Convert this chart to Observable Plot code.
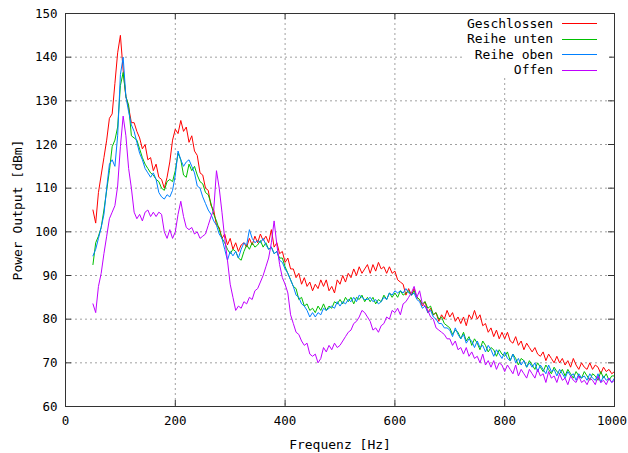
<!DOCTYPE html>
<html>
<head>
<meta charset="utf-8">
<script src="https://cdn.jsdelivr.net/npm/d3@7"></script>
<script src="https://cdn.jsdelivr.net/npm/@observablehq/plot@0.6"></script>
<style>
  html, body { margin: 0; padding: 0; background: #fff; }
  #wrap { position: relative; width: 628px; height: 453px; font-family: "DejaVu Sans Mono", monospace; font-size: 13px; color: #000; }
  .lg-text { position: absolute; right: 75px; height: 15px; line-height: 15px; text-align: right; white-space: pre; }
  .lg-line { position: absolute; left: 562px; width: 35px; height: 0; }
</style>
</head>
<body>
<div id="wrap"></div>
<script>
// Frequencies sampled every 5 Hz from 50 to 1000 Hz
const freq = d3.range(50, 1001, 5);

const geschlossen = [
  105, 102, 109, 113, 117, 121, 126, 127, 134, 141,
  145, 137, 131, 128.5, 125, 125, 123, 121.5, 119, 120,
  116.5, 117, 114, 115.5, 112.5, 112, 110, 112.5, 116, 121,
  123.5, 122.5, 125.5, 123, 124, 120.5, 122, 118.5, 117.5, 113.5,
  113, 110, 109.5, 106, 105, 101.5, 101, 98.5, 99.5, 97,
  98.5, 96, 97.5, 95.5, 97, 97.5, 96.5, 98.5, 97, 99,
  97.5, 99.5, 98, 99, 97.5, 100.5, 96.5, 97.5, 95, 95.5,
  93, 94, 91.5, 91.5, 89.5, 90.5, 88, 89.5, 87.5, 88.5,
  86.5, 88, 87, 89, 87.5, 89, 86.5, 87.5, 86, 89,
  88, 90, 88.5, 90.5, 89.5, 91.5, 90, 92, 90.5, 91.5,
  92.5, 90.5, 92.5, 91, 93, 91.5, 92, 90.5, 92, 90.5,
  91, 89, 88.5, 88, 85.5, 87, 85.5, 87, 85, 84.5,
  83, 84, 81.5, 82.5, 81, 81.5, 79.5, 81, 80, 82,
  80.5, 81.5, 79.5, 80.5, 79, 80.5, 78.5, 81, 80, 82,
  80, 81, 78.5, 79, 77, 78, 76, 77.5, 75.5, 77,
  75.5, 77, 75, 74.5, 76, 74, 75, 73, 74.5, 73.5,
  72.5, 73.5, 72, 71.5, 72.5, 70.5, 72, 71, 70, 71.5,
  70, 71, 69.5, 70.5, 69, 71, 69.5, 68.5, 70, 69,
  68.5, 70, 68.5, 69.5, 69, 67.5, 69, 68, 68.5, 67.5,
  68
];

const reiheUnten = [
  92.5, 97.5, 99, 101, 105, 109.5, 114, 119.5, 121, 124,
  133.5, 136.5, 131, 129, 122, 121.5, 121, 119, 117, 115.5,
  114.5, 113.5, 113, 112, 111.5, 110, 109.5, 111.5, 112, 111.5,
  114, 118, 116.5, 113, 112.5, 115.5, 114, 115, 113, 111.5,
  111, 109, 108.5, 106.5, 104, 102.5, 100.5, 98.5, 97.5, 96,
  95, 96, 95.5, 94, 93.5, 95.5, 97, 96, 97.5, 96.5,
  97, 98, 96.5, 97.5, 96, 96.5, 95, 95.5, 94, 94,
  92, 90.5, 89, 87.5, 87, 84.5, 85, 83, 83.5, 82,
  82.5, 81.5, 83, 82, 83.5, 82, 83, 82.5, 84, 83.5,
  84.5, 83.5, 85, 84, 85, 83.5, 85, 84.5, 85.5, 84,
  85, 84, 85, 83.5, 84.5, 84, 85.5, 84.5, 86, 85,
  86, 85, 86.5, 85.5, 86, 86.5, 85.5, 86.5, 85, 84.5,
  83.5, 84, 82.5, 83, 81, 81.5, 80, 80.5, 79, 78.5,
  78, 76.5, 77.5, 77, 75.5, 77, 75, 76, 74, 75.5,
  74.5, 73, 75, 74, 72.5, 73.5, 73, 71.5, 73, 72,
  71.5, 72.5, 70.5, 72, 71, 69.5, 71, 70.5, 69, 70.5,
  69.5, 68.5, 70, 69, 68, 69.5, 68.5, 67.5, 69, 68,
  67.5, 68.5, 67, 68.5, 67.5, 66.5, 68, 67, 66.5, 68,
  67, 66, 67.5, 67, 66, 68, 66.5, 67.5, 66, 67,
  67
];

const reiheOben = [
  94.5, 96, 98.5, 101, 104, 110, 115.5, 116.5, 115, 122,
  136, 140, 131, 127.5, 124.5, 123, 120.5, 118, 116.5, 114.5,
  113.5, 112.5, 113.5, 112, 109, 108, 107.5, 108.5, 108, 109.5,
  113, 118.5, 116.5, 115, 116, 116.5, 115, 113.5, 110.5, 110,
  108, 106.5, 105, 104, 102.5, 101.5, 99.5, 98.5, 96, 93.5,
  95.5, 94.5, 95.5, 94, 96, 97.5, 97, 100.5, 98.5, 97.5,
  98, 97.5, 98.5, 97, 96, 96.5, 95, 95.5, 93.5, 93,
  91.5, 90.5, 89, 87.5, 85.5, 85, 83.5, 83, 82, 80.5,
  81.5, 80.5, 81.5, 81, 82.5, 82, 82.5, 83, 82.5, 84,
  83, 84, 83.5, 84.5, 84, 85, 84, 85.5, 85, 84.5,
  84.5, 85, 84, 84.5, 83.5, 84, 85, 84.5, 86, 85.5,
  86.5, 86, 86.5, 86, 87, 86, 85.5, 86, 84.5, 84,
  82.5, 83, 81.5, 82, 80.5, 80, 79, 79, 78, 78,
  77.5, 76, 78, 76.5, 75.5, 76.5, 74.5, 75.5, 75, 73.5,
  75, 73.5, 74, 72.5, 74, 73, 71.5, 73, 72, 71,
  72.5, 71, 70.5, 72, 70, 71, 69.5, 70.5, 69, 70,
  69, 70, 68, 69.5, 68.5, 67.5, 69.5, 68, 68.5, 67,
  68.5, 67.5, 66.5, 68, 67, 67.5, 66, 67.5, 66.5, 67,
  66, 67.5, 66.5, 66, 67.5, 65.5, 67, 66, 66.5, 65.5,
  66.5
];

const offen = [
  83.5, 81.5, 87.5, 90.5, 95, 99, 103, 104.5, 106, 110.5,
  119.5, 126.5, 122, 114.5, 110, 104.5, 103, 104, 102.5, 104.5,
  105, 103.5, 104.5, 103.5, 104.5, 104, 100, 98.5, 100.5, 98.5,
  100, 104, 107, 103.5, 101, 100.5, 101, 99.5, 100, 98.5,
  99, 99.5, 101.5, 103.5, 105, 114, 110, 104.5, 98.5, 93.5,
  88, 85, 82, 83, 82.5, 84, 83.5, 85, 84.5, 86.5,
  87, 88.5, 90, 92, 94, 97.5, 102.5, 97, 92.5, 89.5,
  88, 86, 81, 79, 77, 76.5, 75, 74, 74.5, 72,
  71.5, 72, 70, 71, 73.5, 72.5, 74, 73, 74.5, 73.5,
  74, 75, 76, 77, 77.5, 79, 79.5, 80.5, 82, 81.5,
  80.5, 79.5, 77.5, 78, 77, 78.5, 79, 80.5, 80, 82,
  81.5, 82.5, 81, 83.5, 84, 85, 86, 87.5, 85, 86.5,
  83.5, 83, 82, 80.5, 80, 78, 77.5, 77, 76.5, 75.5,
  75.5, 74, 75, 73, 73.5, 72, 73.5, 71.5, 72.5, 71,
  71.5, 70, 72, 69.5, 70.5, 69, 70.5, 68.5, 70, 69.5,
  68, 69.5, 68.5, 67.5, 69.5, 67, 68.5, 67.5, 66.5, 68.5,
  67.5, 66.5, 68.5, 67, 67.5, 65.5, 68, 66.5, 67, 65.5,
  67.5, 66, 66.5, 65, 67, 66, 65.5, 67, 65.5, 66,
  65, 66.5, 66, 65, 67, 65.5, 66, 65, 66.5, 65.5,
  66
];

const seriesNames = ["Geschlossen", "Reihe unten", "Reihe oben", "Offen"];
const seriesValues = [geschlossen, reiheUnten, reiheOben, offen];
const seriesColors = ["#ff0000", "#00c000", "#0080ff", "#c000ff"];

const xTicks = [0, 200, 400, 600, 800, 1000];
const yTicks = [60, 70, 80, 90, 100, 110, 120, 130, 140, 150];

const W = 628, H = 453, mL = 65, mR = 14, mT = 13, mB = 47;
const innerW = W - mL - mR, innerH = H - mT - mB;
const tickLen = 6;

const rows = seriesNames.map((name, s) =>
  freq.map((f, i) => ({series: name, f, v: seriesValues[s][i]}))
);

const gridStyle = {stroke: "#a0a0a0", strokeOpacity: 1, strokeWidth: 1, strokeDasharray: "2,3"};

const chart = Plot.plot({
  width: W, height: H,
  marginLeft: mL, marginRight: mR, marginTop: mT, marginBottom: mB,
  style: {fontFamily: "DejaVu Sans Mono, monospace", fontSize: "13px", color: "#000", background: "transparent", overflow: "visible"},
  x: {domain: [0, 1000]},
  y: {domain: [60, 150]},
  marks: [
    Plot.gridX(xTicks, gridStyle),
    Plot.gridY(yTicks, gridStyle),
    ...rows.map((data, s) => Plot.line(data, {x: "f", y: "v", stroke: seriesColors[s], strokeWidth: 1})),
    Plot.tickX(xTicks, {x: d => d, stroke: "#333", insetTop: innerH - tickLen}),
    Plot.tickX(xTicks, {x: d => d, stroke: "#333", insetBottom: innerH - tickLen}),
    Plot.tickY(yTicks, {y: d => d, stroke: "#333", insetRight: innerW - tickLen}),
    Plot.tickY(yTicks, {y: d => d, stroke: "#333", insetLeft: innerW - tickLen}),
    Plot.frame({stroke: "#333", strokeWidth: 1}),
    Plot.axisX(xTicks.slice(0, -1), {tickSize: 0, tickPadding: 10, fontSize: 12.5, tickFormat: d => String(d), label: null}),
    Plot.axisX(xTicks.slice(-1), {tickSize: 0, tickPadding: 10, fontSize: 12.5, dx: -2.5, tickFormat: d => String(d), label: null}),
    Plot.axisX({tickSize: 0, ticks: [], fontSize: 13, label: "Frequenz [Hz]", labelAnchor: "center", labelOffset: 42, labelArrow: "none"}),
    Plot.axisY(yTicks, {tickSize: 0, tickPadding: 8, fontSize: 12.5, tickFormat: d => String(d), label: null}),
    Plot.axisY({tickSize: 0, ticks: [], fontSize: 13, label: "Power Output [dBm]", labelAnchor: "center", labelOffset: 53, labelArrow: "none"})
  ]
});

const wrap = document.getElementById("wrap");
wrap.appendChild(chart);

// Legend (inside plot, top-right, white background)
const bg = document.createElement("div");
bg.style.cssText = "position:absolute;left:463px;top:14px;width:146px;height:63px;background:#fff;";
wrap.appendChild(bg);
seriesNames.forEach((name, i) => {
  const cy = 23 + i * 15.5;
  const t = document.createElement("div");
  t.className = "lg-text";
  t.style.top = (cy - 7.5) + "px";
  t.textContent = name;
  wrap.appendChild(t);
  const l = document.createElement("div");
  l.className = "lg-line";
  l.style.top = Math.round(cy) + "px";
  l.style.borderTop = "1px solid " + seriesColors[i];
  wrap.appendChild(l);
});
</script>
</body>
</html>
